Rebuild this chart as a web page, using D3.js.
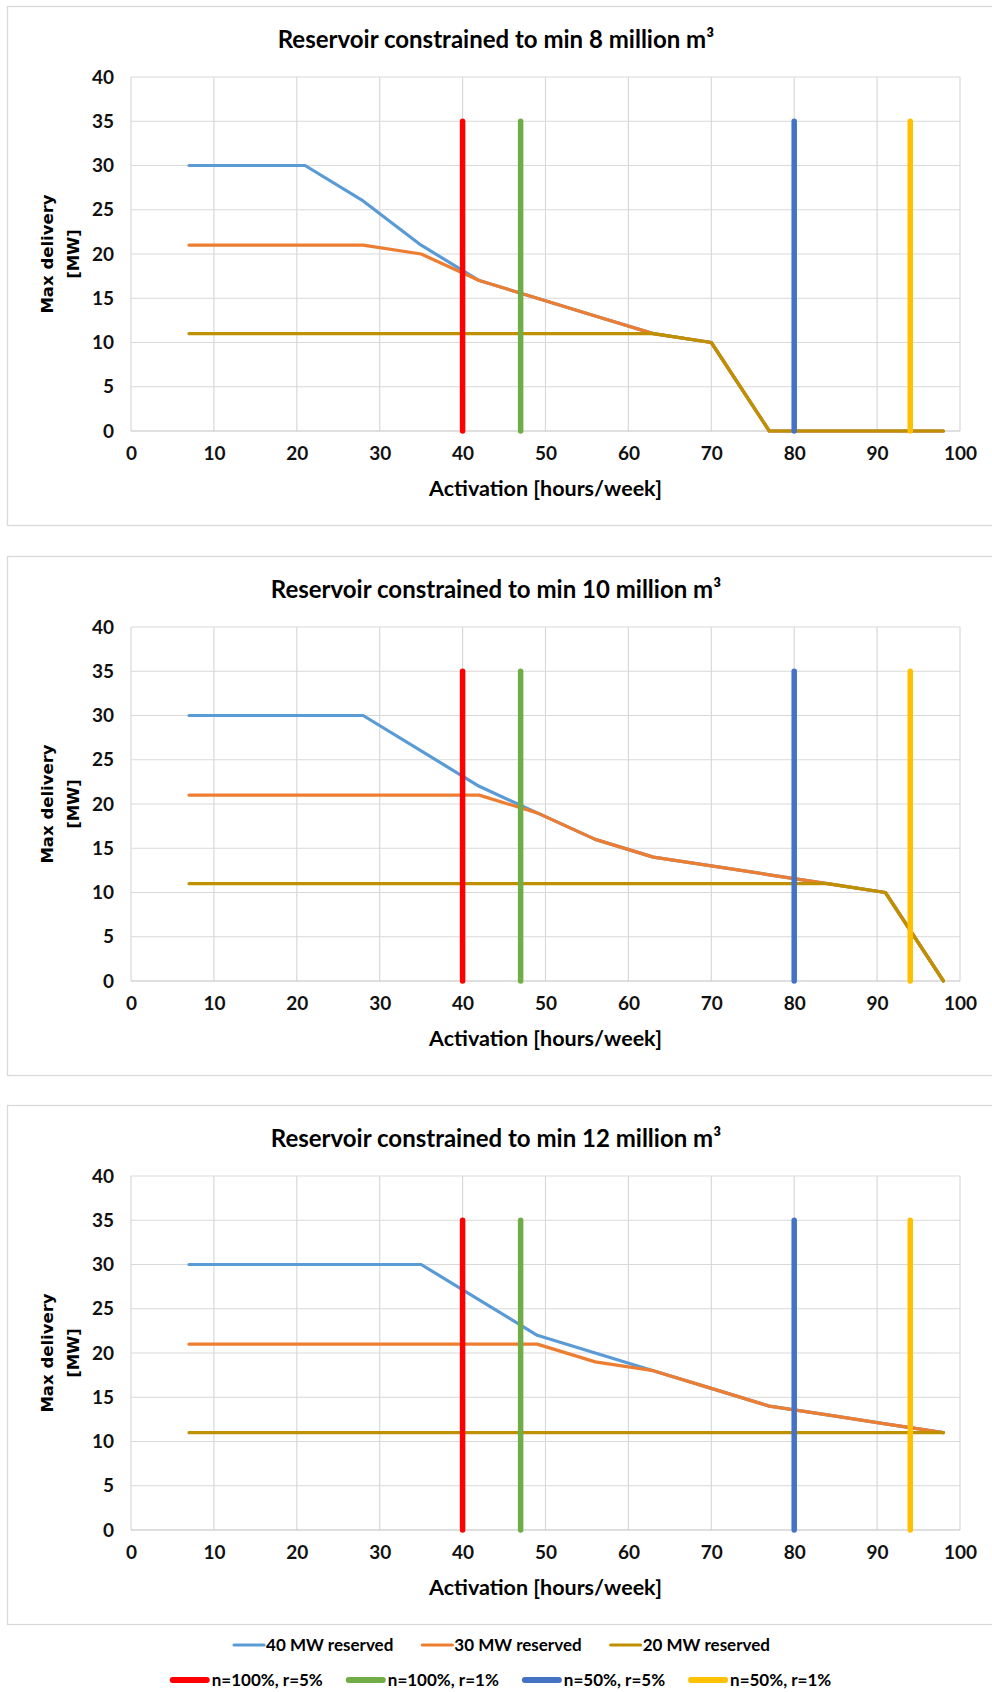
<!DOCTYPE html>
<html>
<head>
<meta charset="utf-8">
<script src="https://cdn.jsdelivr.net/npm/d3@7/dist/d3.min.js"></script>
<style>
  body { margin: 0; background: #fff; }
  text { font-family: Lato, "Open Sans", sans-serif; }
</style>
</head>
<body>
<div id="chart"></div>
<script>
// activation hours per week (x values of the series)
const hours = [7, 14, 21, 28, 35, 42, 49, 56, 63, 70, 77, 84, 91, 98];

const titles = [
  "Reservoir constrained to min 8 million m³",
  "Reservoir constrained to min 10 million m³",
  "Reservoir constrained to min 12 million m³"
];

// max delivery [MW], min 8 million m3
const mw40_min8 = [30, 30, 30, 26, 21, 17, 15, 13, 11, 10, 0, 0, 0, 0];
const mw30_min8 = [21, 21, 21, 21, 20, 17, 15, 13, 11, 10, 0, 0, 0, 0];
const mw20_min8 = [11, 11, 11, 11, 11, 11, 11, 11, 11, 10, 0, 0, 0, 0];

// min 10 million m3
const mw40_min10 = [30, 30, 30, 30, 26, 22, 19, 16, 14, 13, 12, 11, 10, 0];
const mw30_min10 = [21, 21, 21, 21, 21, 21, 19, 16, 14, 13, 12, 11, 10, 0];
const mw20_min10 = [11, 11, 11, 11, 11, 11, 11, 11, 11, 11, 11, 11, 10, 0];

// min 12 million m3
const mw40_min12 = [30, 30, 30, 30, 30, 26, 22, 20, 18, 16, 14, 13, 12, 11];
const mw30_min12 = [21, 21, 21, 21, 21, 21, 21, 19, 18, 16, 14, 13, 12, 11];
const mw20_min12 = [11, 11, 11, 11, 11, 11, 11, 11, 11, 11, 11, 11, 11, 11];

const seriesNames = ["40 MW reserved", "30 MW reserved", "20 MW reserved"];
const seriesColors = ["#5B9BD5", "#ED7D31", "#BF9000"];

// vertical marker lines
const markerHours = [40, 47, 80, 94];
const markerTop = 35;
const markerNames = ["n=100%, r=5%", "n=100%, r=1%", "n=50%, r=5%", "n=50%, r=1%"];
const markerColors = ["#FF0000", "#70AD47", "#4472C4", "#FFC000"];

const xTickValues = [0, 10, 20, 30, 40, 50, 60, 70, 80, 90, 100];
const yTickValues = [0, 5, 10, 15, 20, 25, 30, 35, 40];

const panels = [
  [mw40_min8, mw30_min8, mw20_min8],
  [mw40_min10, mw30_min10, mw20_min10],
  [mw40_min12, mw30_min12, mw20_min12]
];

const W = 992, H = 1692;
const frameTops = [6, 556, 1105];
const frameH = 519;
const plotTop = 71, plotH = 354;

const svg = d3.select("#chart").append("svg")
  .attr("width", W).attr("height", H)
  .style("background", "#fff");

const x = d3.scaleLinear().domain([0, 100]).range([131, 960]);

panels.forEach((series, p) => {
  const top = frameTops[p];
  const g = svg.append("g");

  // chart frame
  g.append("rect")
    .attr("x", 7.5).attr("y", top + 0.5)
    .attr("width", 990).attr("height", frameH)
    .attr("fill", "#fff").attr("stroke", "#D9D9D9").attr("stroke-width", 1.3);

  const y = d3.scaleLinear().domain([0, 40]).range([top + plotTop + plotH, top + plotTop]);

  // title
  g.append("text")
    .attr("x", 496).attr("y", top + 42)
    .attr("text-anchor", "middle")
    .style("font-size", "24px").style("font-weight", "bold")
    .text(titles[p]);

  // grid
  g.append("g").selectAll("line").data(xTickValues).join("line")
    .attr("x1", d => x(d)).attr("x2", d => x(d))
    .attr("y1", y(0)).attr("y2", y(40))
    .attr("stroke", "#D9D9D9").attr("stroke-width", 1.2);
  g.append("g").selectAll("line").data(yTickValues).join("line")
    .attr("x1", x(0)).attr("x2", x(100))
    .attr("y1", d => y(d)).attr("y2", d => y(d))
    .attr("stroke", d => d === 0 ? "#BFBFBF" : "#D9D9D9").attr("stroke-width", 1.2);

  // axes (labels only)
  const xAxis = g.append("g")
    .attr("transform", `translate(0,${y(0)})`)
    .call(d3.axisBottom(x).tickValues(xTickValues).tickSize(0).tickPadding(16));
  const yAxis = g.append("g")
    .attr("transform", `translate(${x(0)},0)`)
    .call(d3.axisLeft(y).tickValues(yTickValues).tickSize(0).tickPadding(17));
  [xAxis, yAxis].forEach(a => {
    a.select(".domain").remove();
    a.selectAll("text")
      .style("font-family", "Lato, sans-serif")
      .style("font-size", "19px").style("font-weight", "bold").attr("fill", "#111");
  });

  // axis titles
  g.append("text")
    .attr("x", x(50)).attr("y", y(0) + 65)
    .attr("text-anchor", "middle")
    .style("font-size", "21.5px").style("font-weight", "bold")
    .text("Activation [hours/week]");

  const yt = g.append("text")
    .attr("transform", `translate(0,${(y(0) + y(40)) / 2}) rotate(-90)`)
    .attr("text-anchor", "middle")
    .style("font-family", "'DejaVu Sans', Verdana, sans-serif")
    .style("font-size", "16.5px").style("font-weight", "bold");
  yt.append("tspan").attr("x", 0).attr("y", 53).text("Max delivery");
  yt.append("tspan").attr("x", 0).attr("y", 79).text("[MW]");

  // series lines
  const line = d3.line().x(d => x(d[0])).y(d => y(d[1]));
  series.forEach((vals, i) => {
    g.append("path")
      .datum(hours.map((h, k) => [h, vals[k]]))
      .attr("d", line)
      .attr("fill", "none")
      .attr("stroke", seriesColors[i])
      .attr("stroke-width", 3.2)
      .attr("stroke-linejoin", "round")
      .attr("stroke-linecap", "round");
  });

  // marker lines
  markerHours.forEach((h, i) => {
    g.append("path")
      .datum([[h, 0], [h, markerTop]])
      .attr("d", line)
      .attr("stroke", markerColors[i])
      .attr("stroke-width", 5.5)
      .attr("stroke-linecap", "round");
  });
});

// legend
function legendRow(names, colors, yPos, lineLen, lineW, textGap, itemGap) {
  const row = svg.append("g");
  const items = names.map((n, i) => {
    const it = row.append("g");
    it.append("line").attr("x1", 0).attr("x2", lineLen).attr("y1", 0).attr("y2", 0)
      .attr("stroke", colors[i]).attr("stroke-width", lineW).attr("stroke-linecap", "round");
    const t = it.append("text").attr("x", lineLen + textGap).attr("y", 0).attr("dy", "0.35em")
      .style("font-size", "17px").style("font-weight", "bold").text(n);
    return { g: it, w: lineLen + textGap + t.node().getComputedTextLength() };
  });
  const total = d3.sum(items, d => d.w) + itemGap * (items.length - 1);
  let cx = 502 - total / 2;
  items.forEach(d => {
    d.g.attr("transform", `translate(${cx},${yPos})`);
    cx += d.w + itemGap;
  });
}
legendRow(seriesNames, seriesColors, 1645, 30, 3.2, 2, 29);
legendRow(markerNames, markerColors, 1680, 34, 6, 5, 26);
</script>
</body>
</html>
